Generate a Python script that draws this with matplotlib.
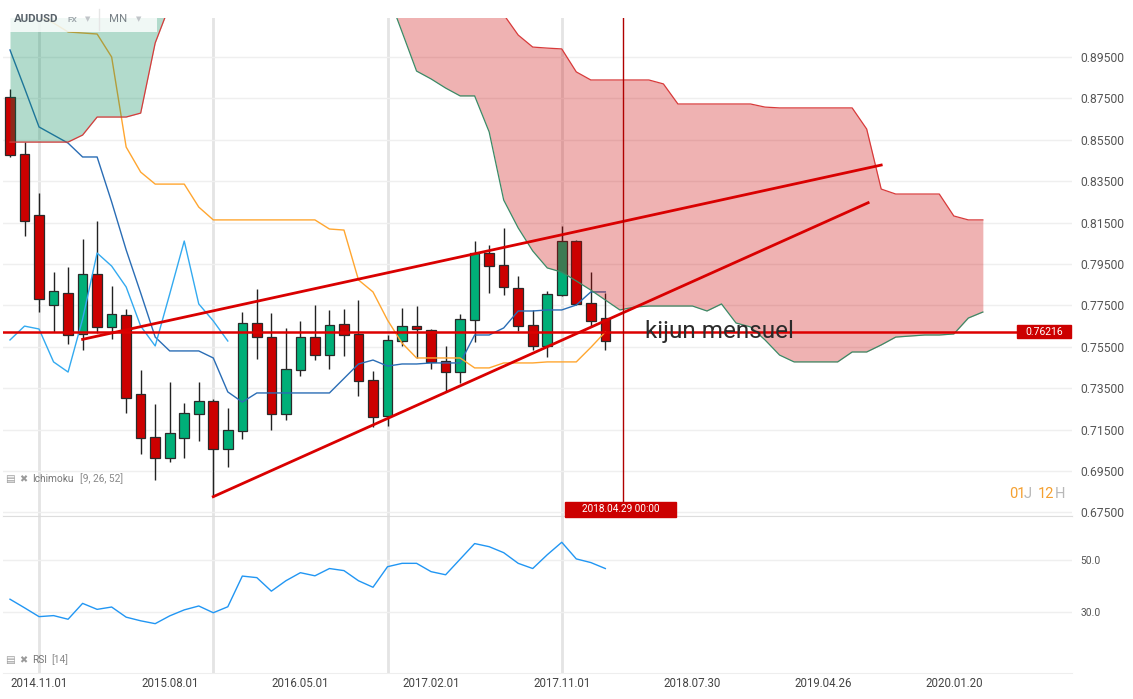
import matplotlib
matplotlib.use("Agg")
import matplotlib.pyplot as plt
from matplotlib.patches import Rectangle
from matplotlib.lines import Line2D
import numpy as np

W, H = 1133, 699
FONT = ["Roboto", "DejaVu Sans"]
plt.rcParams["font.family"] = FONT

# AUDUSD monthly candles (index 0 = 2014.09)
opens = [0.8757, 0.8481, 0.8187, 0.7752, 0.7810, 0.7612, 0.7902, 0.7646, 0.7704, 0.7322,
         0.7114, 0.7013, 0.7109, 0.7225, 0.7288, 0.7056, 0.7143, 0.7665, 0.7597, 0.7225,
         0.7438, 0.7597, 0.7510, 0.7660, 0.7612, 0.7390, 0.7216, 0.7578, 0.7650, 0.7631,
         0.7481, 0.7428, 0.7679, 0.8003, 0.7945, 0.7834, 0.7655, 0.7554, 0.7800, 0.8061,
         0.7762, 0.7689]
highs = [0.8795, 0.8539, 0.8293, 0.7911, 0.7936, 0.8071, 0.8158, 0.7844, 0.7733, 0.7438,
         0.7274, 0.7380, 0.7279, 0.7380, 0.7298, 0.7254, 0.7718, 0.7829, 0.7713, 0.7641,
         0.7675, 0.7752, 0.7728, 0.7733, 0.7776, 0.7433, 0.7607, 0.7738, 0.7747, 0.7636,
         0.7554, 0.7708, 0.8061, 0.8042, 0.8124, 0.7892, 0.7728, 0.7820, 0.8134, 0.8066,
         0.7911, 0.7810]
lows = [0.8467, 0.8085, 0.7718, 0.7622, 0.7563, 0.7535, 0.7617, 0.7588, 0.7230, 0.7032,
        0.6906, 0.6993, 0.7013, 0.7095, 0.6824, 0.6969, 0.7105, 0.7491, 0.7148, 0.7196,
        0.7409, 0.7486, 0.7443, 0.7506, 0.7312, 0.7163, 0.7167, 0.7554, 0.7496, 0.7443,
        0.7332, 0.7375, 0.7573, 0.7810, 0.7800, 0.7626, 0.7535, 0.7501, 0.7795, 0.7752,
        0.7650, 0.7535]
closes = [0.8477, 0.8158, 0.7781, 0.7820, 0.7607, 0.7902, 0.7646, 0.7708, 0.7303, 0.7109,
          0.7013, 0.7134, 0.7230, 0.7288, 0.7056, 0.7148, 0.7665, 0.7597, 0.7225, 0.7443,
          0.7597, 0.7510, 0.7655, 0.7607, 0.7385, 0.7211, 0.7583, 0.7650, 0.7636, 0.7477,
          0.7428, 0.7684, 0.8003, 0.7940, 0.7839, 0.7650, 0.7554, 0.7805, 0.8061, 0.7757,
          0.7675, 0.7578]

# Ichimoku [9, 26, 52]
tenkan = [0.8984, 0.8800, 0.8612, 0.8573, 0.8534, 0.8467, 0.8467, 0.8250, 0.8018, 0.7810,
          0.7597, 0.7530, 0.7530, 0.7530, 0.7496, 0.7332, 0.7283, 0.7327, 0.7327, 0.7327,
          0.7327, 0.7327, 0.7327, 0.7397, 0.7467, 0.7486, 0.7457, 0.7467, 0.7467, 0.7472,
          0.7472, 0.7472, 0.7607, 0.7607, 0.7641, 0.7723, 0.7723, 0.7728, 0.7728, 0.7752,
          0.7815, 0.7815]
kijun = [0.9153, 0.9153, 0.9150, 0.9114, 0.9071, 0.9066, 0.9061, 0.8950, 0.8515, 0.8394,
         0.8336, 0.8336, 0.8336, 0.8225, 0.8163, 0.8163, 0.8163, 0.8163, 0.8163, 0.8163,
         0.8163, 0.8163, 0.8119, 0.8114, 0.7873, 0.7815, 0.7679, 0.7568, 0.7496, 0.7496,
         0.7496, 0.7496, 0.7448, 0.7448, 0.7472, 0.7472, 0.7472, 0.7477, 0.7477, 0.7477,
         0.7547, 0.76216]
span_a = [0.99, 0.99, 0.985, 0.98, 0.975, 0.97, 0.97, 0.965, 0.96, 0.96,
          0.955, 0.955, 0.95, 0.945, 0.94, 0.94, 0.935, 0.935, 0.935, 0.93,
          0.93, 0.93, 0.93, 0.93, 0.93, 0.928, 0.9259, 0.9071, 0.8882, 0.8844,
          0.8800, 0.8762, 0.8762, 0.8588, 0.8259, 0.8124, 0.8013, 0.7931, 0.7911, 0.7868,
          0.7824, 0.7776, 0.7728, 0.7742, 0.7747, 0.7747, 0.7747, 0.7747, 0.7723, 0.7757,
          0.7665, 0.7646, 0.7583, 0.7510, 0.7477, 0.7477, 0.7477, 0.7477, 0.7525, 0.7525,
          0.7559, 0.7597, 0.7602, 0.7607, 0.7607, 0.7612, 0.7689, 0.7718]
span_b = [0.8539, 0.8539, 0.8539, 0.8539, 0.8539, 0.8573, 0.8660, 0.8660, 0.8660, 0.8679,
          0.9018, 0.9201, 0.935, 0.945, 0.95, 0.95, 0.95, 0.95, 0.95, 0.95,
          0.95, 0.95, 0.95, 0.95, 0.95, 0.95, 0.95, 0.945, 0.945, 0.94,
          0.94, 0.935, 0.935, 0.93, 0.9155, 0.9056, 0.8998, 0.8993, 0.8989, 0.8878,
          0.8839, 0.8839, 0.8839, 0.8839, 0.8839, 0.8820, 0.8723, 0.8723, 0.8723, 0.8723,
          0.8723, 0.8723, 0.8708, 0.8704, 0.8704, 0.8704, 0.8704, 0.8704, 0.8704, 0.8602,
          0.8312, 0.8288, 0.8288, 0.8288, 0.8288, 0.8182, 0.8163, 0.8163]
chikou_shift = 26

rsi = [35.1, 31.8, 28.4, 28.8, 27.4, 33.5, 31.2, 32.1, 28.2, 26.8,
       25.7, 28.7, 31.0, 32.5, 29.9, 32.2, 44.0, 43.4, 38.2, 42.2,
       45.3, 44.1, 46.9, 46.1, 42.2, 39.7, 47.6, 48.9, 48.9, 45.7,
       44.5, 50.5, 56.5, 55.3, 53.0, 48.9, 46.9, 52.2, 57.0, 50.6,
       49.2, 46.9]

kijun_level = 0.76216
# hand drawn trend lines: (bar index, price)
upper_trend = ([5.0, 60.0], [0.7586, 0.8428])
lower_trend = ([14.0, 59.1], [0.6826, 0.8246])

price_ticks = [0.675, 0.695, 0.715, 0.735, 0.755, 0.775, 0.795, 0.815, 0.835, 0.855, 0.875, 0.895]
rsi_ticks = [30, 50]
date_ticks = [2, 11, 20, 29, 38, 47, 56, 65]
date_labels = ["2014.11.01", "2015.08.01", "2016.05.01", "2017.02.01",
               "2017.11.01", "2018.07.30", "2019.04.26", "2020.01.20"]
year_lines = [2, 14, 26, 38]
cursor_pos = 42.24
cursor_label = "2018.04.29 00:00"

RED = "#cc0000"
GREEN = "#00af78"


def fig_xy(x, y):
    return x / W, 1 - y / H


fig = plt.figure(figsize=(W / 100, H / 100), dpi=100)
ax = fig.add_axes([3 / W, 1 - 516 / H, 1069 / W, 498 / H])
ax_rsi = fig.add_axes([3 / W, 1 - 673 / H, 1069 / W, 157 / H])

for a in (ax, ax_rsi):
    a.set_xlim(-0.482, 73.14)
    for s in a.spines.values():
        s.set_visible(False)
    for xv in year_lines:
        a.axvline(xv, color="#e4e4e4", lw=2, zorder=0)

# --- price panel
ax.set_ylim(0.67326, 0.91384)
ax.set_yticks(price_ticks)
ax.set_yticklabels([f"{p:.5f}" for p in price_ticks])
ax.yaxis.tick_right()
ax.tick_params(axis="y", length=0, pad=6, labelsize=8.7, colors="#555555")
ax.set_xticks([])
ax.yaxis.grid(True, color="#efefef", lw=1, zorder=0)
ax.set_axisbelow(True)
ax.spines["bottom"].set_visible(True)
ax.spines["bottom"].set_color("#dddddd")

idx = np.arange(len(closes))
body_lo = np.minimum(opens, closes)
body_h = np.abs(np.array(closes) - np.array(opens))
colors = [GREEN if c >= o else RED for o, c in zip(opens, closes)]
ax.vlines(idx, lows, highs, color="#222222", lw=1, zorder=2)
ax.bar(idx, body_h, bottom=body_lo, width=0.66, color=colors,
       edgecolor="#2a2a2a", linewidth=0.9, zorder=2.5)

ax.plot(idx, tenkan, color="#2a6db5", lw=1, zorder=3)
ax.plot(idx, kijun, color="#ffa630", lw=1, zorder=3)
chikou = closes[chikou_shift:]
ax.plot(np.arange(len(chikou)), chikou, color="#33aaf0", lw=1, zorder=3)

xc = np.arange(len(span_a))
sa = np.array(span_a)
sb = np.array(span_b)
ax.fill_between(xc, sa, sb, where=sa >= sb, interpolate=True,
                color="#008a58", alpha=0.3, lw=0, zorder=4)
ax.fill_between(xc, sa, sb, where=sa < sb, interpolate=True,
                color="#cc0000", alpha=0.3, lw=0, zorder=4)
ax.plot(xc, sb, color="#d83a3a", lw=0.9, zorder=4.5)
ax.plot(xc, sa, color="#3a8a66", lw=0.9, zorder=4.5)

ax.plot(*upper_trend, color="#d90000", lw=2, zorder=6)
ax.plot(*lower_trend, color="#d90000", lw=2, zorder=6)
ax.axhline(kijun_level, color="#dd0000", lw=1.8, zorder=6)
ax.text(43.7, kijun_level, "kijun mensuel", fontsize=17.5, color="#2b2b2b",
        va="center", ha="left", zorder=7)

ax.axvline(cursor_pos, ymin=14 / 498, color="#b00000", lw=1, zorder=7)

fig.canvas.draw()
to_fig = fig.transFigure.inverted()
_, ky = to_fig.transform(ax.transData.transform((0, kijun_level)))
fig.add_artist(Rectangle((1017 / W, ky - 6.5 / H), 54 / W, 13 / H,
                         transform=fig.transFigure, color=RED, zorder=8))
fig.text(1044 / W, ky, f"{kijun_level:.5f}", color="white", fontsize=7.5,
         ha="center", va="center", zorder=9)

cx, _ = to_fig.transform(ax.transData.transform((cursor_pos, 0)))
fig.add_artist(Rectangle((cx - 58 / W, 1 - 517 / H), 111 / W, 15 / H,
                         transform=fig.transFigure, color=RED, zorder=8))
fig.text(cx - 2.5 / W, 1 - 509.5 / H, cursor_label, color="white", fontsize=7.2,
         ha="center", va="center", zorder=9)

# --- RSI panel
ax_rsi.plot(idx, rsi, color="#2196f3", lw=1, zorder=3)
ax_rsi.set_ylim(6.73, 67.1)
ax_rsi.set_yticks(rsi_ticks)
ax_rsi.set_yticklabels([f"{v:.1f}" for v in rsi_ticks])
ax_rsi.yaxis.tick_right()
ax_rsi.tick_params(axis="y", length=0, pad=6, labelsize=7.4, colors="#555555")
ax_rsi.set_xticks(date_ticks)
ax_rsi.set_xticklabels(date_labels)
ax_rsi.tick_params(axis="x", length=0, pad=3, labelsize=8.3, colors="#444444")
ax_rsi.yaxis.grid(True, color="#efefef", lw=1, zorder=0)
ax_rsi.set_axisbelow(True)
ax_rsi.spines["top"].set_visible(True)
ax_rsi.spines["top"].set_color("#dddddd")
ax_rsi.spines["bottom"].set_visible(True)
ax_rsi.spines["bottom"].set_color("#eeeeee")

# --- header and indicator captions
fig.add_artist(Rectangle(fig_xy(10, 32), 147 / W, 26 / H, transform=fig.transFigure,
                         facecolor="white", alpha=0.82, lw=0, zorder=8))
fig.add_artist(Line2D([99 / W, 99 / W], [1 - 30 / H, 1 - 9 / H], transform=fig.transFigure,
                      color="#e6e6e6", lw=1, zorder=9))
fig.text(*fig_xy(14, 19), "AUDUSD", fontsize=8.2, fontweight="bold", color="#5a636b",
         va="center", zorder=10)
fig.text(*fig_xy(68, 19), "FX", fontsize=6, fontweight="bold", color="#a0a8ad",
         va="center", zorder=10)
fig.text(*fig_xy(85, 20), "\u25bc", fontsize=5, color="#c0c4c8", va="center", zorder=10)
fig.text(*fig_xy(109, 19), "MN", fontsize=8.2, color="#7a8288", va="center", zorder=10)
fig.text(*fig_xy(136, 20), "\u25bc", fontsize=5, color="#c0c4c8", va="center", zorder=10)

for ycap, label, params, px in [(479, "Ichimoku", "[9, 26, 52]", 80), (660, "RSI", "[14]", 51)]:
    fig.text(*fig_xy(5, ycap), "\u25a4", fontsize=7.5, color="#9a9a9a", va="center")
    fig.text(*fig_xy(19, ycap), "\u2716", fontsize=7, color="#9a9a9a", va="center")
    fig.text(*fig_xy(32, ycap), label, fontsize=7.3, color="#777777", va="center")
    fig.text(*fig_xy(px, ycap), params, fontsize=7.3, color="#888888", va="center")

for xp, s, c in [(1009, "01", "#f5a030"), (1024, "J", "#b8b8b8"),
                 (1038, "12", "#f5a030"), (1055, "H", "#b8b8b8")]:
    fig.text(*fig_xy(xp, 494), s, fontsize=10.5, color=c, va="center")

fig.savefig("out.png", dpi=100)
